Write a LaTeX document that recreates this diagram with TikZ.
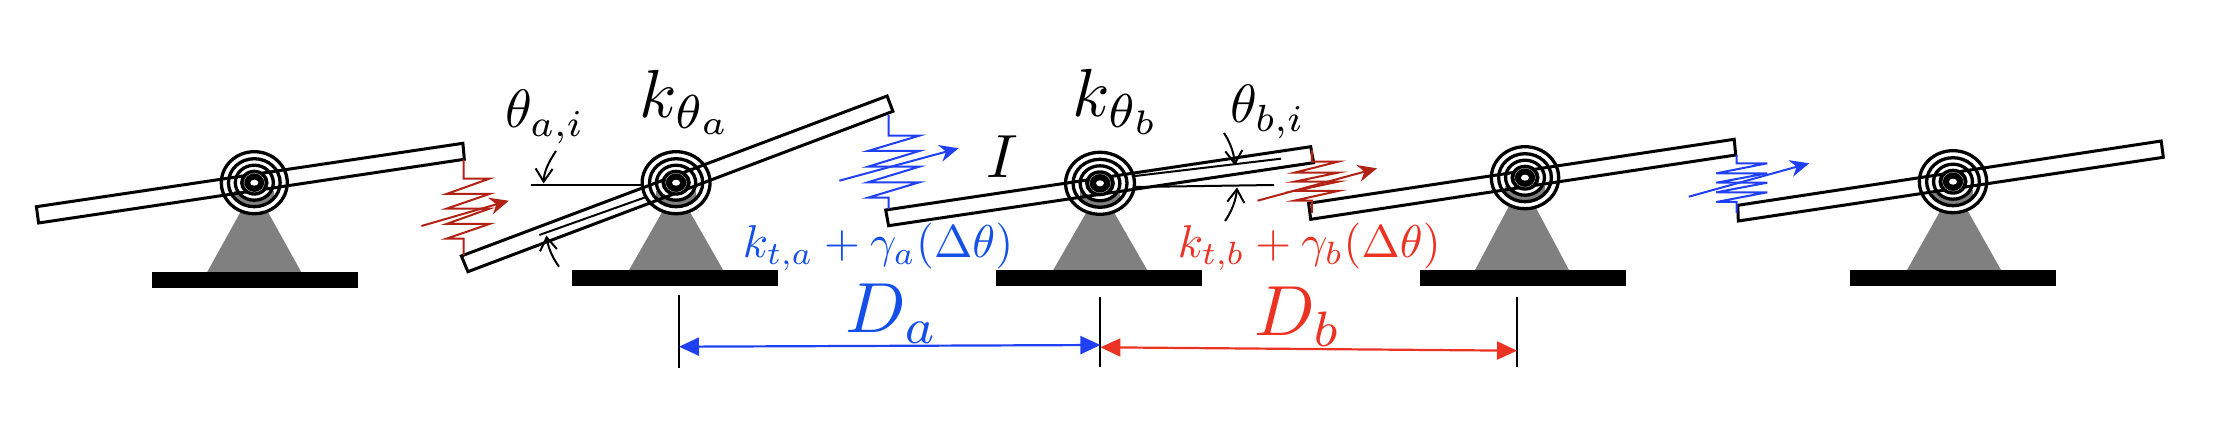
\RequirePackage{fix-cm}
\documentclass[tikz,border=0pt]{standalone}
\usetikzlibrary{arrows.meta}
\definecolor{sblue}{RGB}{32,64,245}
\definecolor{tblue}{RGB}{20,80,232}
\definecolor{dred}{RGB}{178,34,20}
\definecolor{tred}{RGB}{235,50,35}
\definecolor{pgray}{RGB}{128,128,128}
\tikzset{
  beam/.style={draw=black,line width=3pt,line join=miter},
  ring/.style={draw=black,line width=3.3pt},
  groundbar/.style={fill=black,draw=none},
  spring/.style={line width=2pt,line join=miter},
  sarrow/.style={line width=2pt,-{Stealth[length=19pt,width=17pt,inset=6pt]}},
  dimarrow/.style={line width=2.2pt,{Triangle[length=20pt,width=18pt]}-{Triangle[length=20pt,width=18pt]}},
  tick/.style={draw=black,line width=2pt},
  refline/.style={draw=black,line width=2pt},
  angarrow/.style={draw=black,line width=2pt,-{Straight Barb[length=13pt,width=17pt]}},
  lbl/.style={inner sep=0pt,anchor=base west}
}
% cx cy rx baseY triangle-centre ground-centre
\newcommand{\pivotbase}[6]{
  \fill[pgray] (#5-47,#4) -- (#5-8,#2+19) -- (#5+8,#2+19) -- (#5+47,#4) -- cycle;
  \fill[white] (#1,#2) ellipse [x radius=#3*0.96,y radius=30];
  \begin{scope}
    \clip (#1,#2) ellipse [x radius=#3*0.76,y radius=24];
    \fill[pgray] (#1-20,#2+8) rectangle (#1+20,#2+30);
  \end{scope}
  \fill[white] (#1,#2) ellipse [x radius=#3*0.56,y radius=17];
  \fill[groundbar] (#6-103,#4) rectangle (#6+103,#4+16.5);
}
\newcommand{\pivotrings}[3]{
  \draw[ring] (#1,#2) ellipse [x radius=#3*0.97,y radius=31];
  \draw[ring] (#1,#2) ellipse [x radius=#3*0.76,y radius=24];
  \draw[ring] (#1,#2) ellipse [x radius=#3*0.56,y radius=17.5];
  \fill[black] (#1,#2) ellipse [x radius=#3*0.42,y radius=13];
  \draw[white,line width=0.25pt] (#1,#2) ellipse [x radius=#3*0.3,y radius=9.5];
  \fill[white] (#1,#2) ellipse [x radius=4,y radius=3];
}
\begin{document}
\begin{tikzpicture}[x=1pt,y=-1pt]
\useasboundingbox (0,0) rectangle (2236,438);
% supports
\pivotbase{254.3}{182.7}{34}{272}{254.2}{255}
\pivotbase{676.1}{182.7}{35}{270}{676.1}{675}
\pivotbase{1100}{183.3}{35.5}{270}{1100.2}{1099}
\pivotbase{1525}{177.7}{34.7}{270}{1522}{1523}
\pivotbase{1953}{181.7}{34.7}{270}{1954}{1953}
% beams
\draw[beam] (36.4,206.7) -- (38.6,223) -- (464.3,159.3) -- (462.9,143.3) -- cycle;
\draw[beam] (461.4,256) -- (467.9,271.7) -- (892.9,111.3) -- (887.1,96) -- cycle;
\draw[beam] (885.7,210) -- (888.6,225.7) -- (1313.6,162.7) -- (1310.7,146.7) -- cycle;
\draw[beam] (1308.6,203.3) -- (1310.7,219.3) -- (1735.7,155) -- (1734.2,139.3) -- cycle;
\draw[beam] (1737.8,205.3) -- (1738.3,221) -- (2163.3,157.3) -- (2161.2,141) -- cycle;
% angle reference lines
\draw[refline] (531,185) -- (643.6,185);
\draw[refline] (539.3,235) -- (647,196.7);
\draw[refline] (1135,187) -- (1274,185);
\draw[refline] (1135,176) -- (1281,158.7);
\draw[angarrow] (556,151) .. controls (548,163) and (544,172) .. (543.6,183.5);
\draw[angarrow] (559,266.7) .. controls (552,257) and (548,247) .. (546.4,235.5);
\draw[angarrow] (1224,133) .. controls (1230,142) and (1234,153) .. (1235,165.5);
\draw[angarrow] (1225,221) .. controls (1232,211) and (1236,200) .. (1237,187.5);
% rings
\pivotrings{254.3}{182.7}{34}
\pivotrings{676.1}{182.7}{35}
\pivotrings{1100}{183.3}{35.5}
\pivotrings{1525}{177.7}{34.7}
\pivotrings{1953}{181.7}{34.7}
% springs
\draw[spring,dred] (463.6,159.3) -- (463.6,178.7) -- (489.3,178.7) -- (446.4,194) -- (489.3,194) -- (446.4,208.7) -- (489.3,208.7) -- (446.4,224) -- (489.3,224) -- (446.4,238.7) -- (463.6,238.7) -- (463.6,255);
\draw[sarrow,dred] (421.4,226) -- (508.9,200.7);
\draw[spring,sblue] (888.6,115) -- (888.6,135.7) -- (919.3,135.7) -- (867.9,151) -- (919.3,151) -- (867.9,166.7) -- (919.3,166.7) -- (867.9,182.3) -- (919.3,182.3) -- (867.9,197.7) -- (888.6,197.7) -- (888.6,209);
\draw[sarrow,sblue] (839.3,180.7) -- (958.6,148.3);
\draw[spring,dred] (1311.8,150) -- (1311.8,161.7) -- (1337.9,161.7) -- (1294.3,172.7) -- (1337.9,172.7) -- (1294.3,181.7) -- (1337.9,181.7) -- (1294.3,191) -- (1337.9,191) -- (1294.3,200.7) -- (1311.8,200.7) -- (1311.8,213);
\draw[sarrow,dred] (1257.5,200.7) -- (1377,168.3);
\draw[spring,sblue] (1736.7,155) -- (1736.7,163.3) -- (1767.3,163.3) -- (1716.3,173.3) -- (1767.3,173.3) -- (1716.3,182.7) -- (1767.3,182.7) -- (1716.3,192.3) -- (1767.3,192.3) -- (1716.3,202) -- (1736.7,202) -- (1736.7,213);
\draw[sarrow,sblue] (1688.8,196.7) -- (1809.2,163.3);
% dimension lines
\coordinate (ta1) at (679,295);   \coordinate (ta2) at (679,368);
\coordinate (tb1) at (1100.4,297); \coordinate (tb2) at (1100.4,367);
\coordinate (tc1) at (1517,297);  \coordinate (tc2) at (1517,367);
\draw[tick] (ta1) -- (ta2);
\draw[tick] (tb1) -- (tb2);
\draw[tick] (tc1) -- (tc2);
\coordinate (da1) at (679,346.7);    \coordinate (da2) at (1100.4,345);
\coordinate (db1) at (1100.4,347.3); \coordinate (db2) at (1517,350.7);
\draw[dimarrow,sblue] (da1) -- (da2);
\draw[dimarrow,tred] (db1) -- (db2);
% labels (10pt design sizes, scaled)
\node[lbl,scale=6.8] (kthetaa) at (638,118) {$k_{\theta_a}$};
\node[lbl,scale=5.4] (thetaai) at (504,128) {$\theta_{a,i}$};
\node[lbl,scale=6.1] (inertia) at (985,178) {$I$};
\node[lbl,scale=6.8] (kthetab) at (1071,117) {$k_{\theta_b}$};
\node[lbl,scale=5.4] (thetabi) at (1229,123) {$\theta_{b,i}$};
\node[lbl,scale=4.6,text=tblue] (forcea) at (742,258) {$k_{t,a}+\gamma_a(\Delta\theta)$};
\node[lbl,scale=4.6,text=tred] (forceb) at (1177,258) {$k_{t,b}+\gamma_b(\Delta\theta)$};
\node[lbl,scale=7.1,text=tblue] (da) at (844,333) {$D_a$};
\node[lbl,scale=7.1,text=tred] (db) at (1253,336) {$D_b$};
\end{tikzpicture}
\end{document}
